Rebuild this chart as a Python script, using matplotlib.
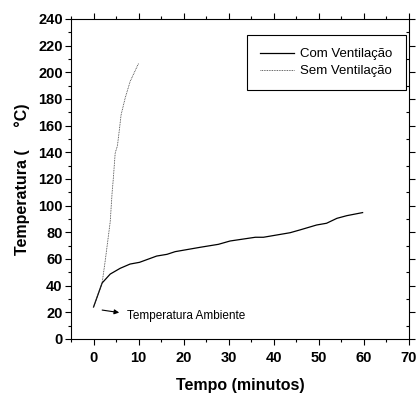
import matplotlib.pyplot as plt
from matplotlib.ticker import MultipleLocator

# Com Ventilação
t_com = [0, 1.9, 3.7, 5.9, 8.1, 10.2, 14, 16.3, 18.1, 23.7, 27.7, 30.3, 35.9, 37.7,
         43.6, 45.8, 49.5, 51.7, 54, 56.2, 59.7]
temp_com = [24, 42, 48.7, 53, 56.2, 57.5, 62.2, 63.5, 65.5, 68.8, 71, 73.5, 76.3, 76.3,
            79.7, 81.8, 85.5, 86.8, 90.5, 92.5, 94.8]

# Sem Ventilação
t_sem = [0, 1.9, 2.6, 3.7, 4.1, 4.4, 4.8, 5.3, 5.8, 6.1, 7.0, 8.1, 10.0]
temp_sem = [24, 42, 59, 88, 109, 121, 139.5, 145, 159, 168, 180.5, 193, 206.8]

fig = plt.figure(figsize=(4.19, 3.95), dpi=100)
ax = fig.add_axes([0.1695, 0.1418, 0.8067, 0.8101])

ax.plot(t_com, temp_com, color="black", lw=0.9, label="Com Ventilação")
ax.plot(t_sem, temp_sem, color="#333333", lw=0.6, linestyle=(0, (1, 1)), label="Sem Ventilação")

ax.set_xlim(-5, 70)
ax.set_ylim(0, 240)
ax.xaxis.set_major_locator(MultipleLocator(10))
ax.xaxis.set_minor_locator(MultipleLocator(5))
ax.yaxis.set_major_locator(MultipleLocator(20))
ax.yaxis.set_minor_locator(MultipleLocator(10))

ax.tick_params(which="both", direction="out", width=0.8)
ax.tick_params(which="major", length=4)
ax.tick_params(which="minor", length=2.5)
ax.tick_params(axis="x", which="both", top=True)
ax.tick_params(axis="y", which="both", right=True)
# right-side ticks point inward
for t in ax.yaxis.get_major_ticks() + ax.yaxis.get_minor_ticks():
    t.tick2line.set_marker(0)

for lbl in ax.get_xticklabels() + ax.get_yticklabels():
    lbl.set_fontweight("bold")
    lbl.set_fontsize(10.5)
    lbl.set_family("Liberation Sans")
ax.tick_params(axis="x", pad=5)
ax.tick_params(axis="y", pad=2)

for s in ax.spines.values():
    s.set_linewidth(0.8)

ax.set_xlabel("Tempo (minutos)", fontsize=11.5, fontweight="bold", family="Liberation Sans", labelpad=9)
ax.set_ylabel("Temperatura (     °C)", fontsize=11.5, fontweight="bold", family="Liberation Sans", labelpad=6)

ax.annotate("", xy=(6.3, 19.5), xytext=(1.3, 22),
            arrowprops=dict(arrowstyle="-|>", color="black", lw=0.8, mutation_scale=7))
ax.text(7.5, 17, "Temperatura Ambiente", fontsize=8.5, va="center", ha="left", family="Liberation Sans")

leg = ax.legend(loc="upper right", bbox_to_anchor=(0.99, 0.95), fancybox=False, edgecolor="black",
                prop={"family": "Liberation Sans", "size": 9.5}, handlelength=2.6, handletextpad=0.45,
                borderpad=1.0, labelspacing=0.35, borderaxespad=0, framealpha=1)
leg.get_frame().set_linewidth(0.8)

fig.savefig("out.png", dpi=100)
